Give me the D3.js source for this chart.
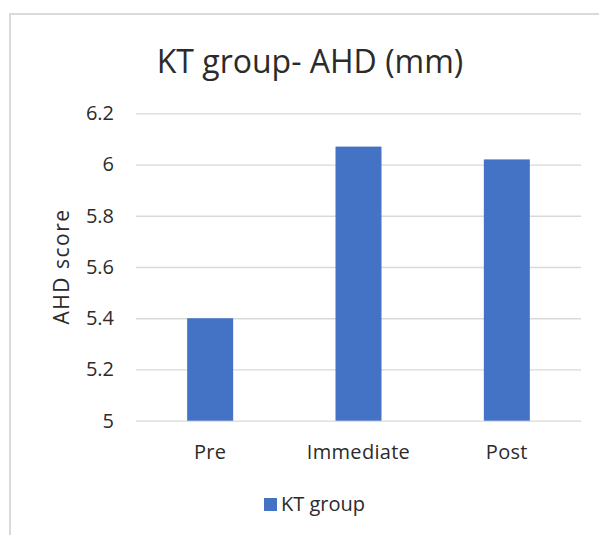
<!DOCTYPE html>
<html><head><meta charset="utf-8">
<script src="https://cdn.jsdelivr.net/npm/d3@7"></script>
<style>body{margin:0;background:#fff}svg{display:block}text{font-family:"Open Sans",sans-serif;fill:#2b2b2b}</style>
</head><body>
<svg id="c" width="599" height="535"></svg>
<script>
const categories = ["Pre", "Immediate", "Post"];
const values = [5.40, 6.07, 6.02];
const yTicks = [5, 5.2, 5.4, 5.6, 5.8, 6, 6.2];
const seriesName = "KT group";
const title = "KT group- AHD (mm)";
const yLabel = "AHD score";

const svg = d3.select("#c");
svg.append("rect").attr("x", 10).attr("y", 14).attr("width", 620).attr("height", 560)
  .attr("fill", "#fff").attr("stroke", "#d9d9d9").attr("stroke-width", 2);

const m = {left: 136, right: 581, top: 113.3, bottom: 420.7};
const x = d3.scaleBand().domain(categories).range([m.left, m.right]).paddingInner(0.69).paddingOuter(0.345);
const y = d3.scaleLinear().domain([5, 6.2]).range([m.bottom, m.top]);

const yAxis = svg.append("g").attr("transform", `translate(${m.left},0)`)
  .call(d3.axisLeft(y).tickValues(yTicks).tickSize(-(m.right - m.left)).tickFormat(d3.format("~g")));
yAxis.select(".domain").remove();
yAxis.selectAll(".tick line").attr("stroke", "#d9d9d9").attr("stroke-width", 1.3);
yAxis.selectAll(".tick text").attr("x", -22).attr("font-size", 20).attr("fill", "#2b2b2b")
  .style("font-family", "'Open Sans',sans-serif");

svg.append("g").selectAll("rect").data(categories).join("rect")
  .attr("x", d => x(d)).attr("width", x.bandwidth())
  .attr("y", (d, i) => y(values[i])).attr("height", (d, i) => y(5) - y(values[i]))
  .attr("fill", "#4472c4");

const xAxis = svg.append("g").attr("transform", `translate(0,${m.bottom})`)
  .call(d3.axisBottom(x).tickSize(0));
xAxis.select(".domain").remove();
xAxis.selectAll(".tick text").attr("y", 31).attr("dy", "0.35em").attr("font-size", 20).attr("fill", "#2b2b2b")
  .style("letter-spacing", "0.3px").style("font-family", "'Open Sans',sans-serif");

svg.append("text").attr("x", 310).attr("y", 73).attr("text-anchor", "middle")
  .attr("font-size", 32).attr("fill", "#1a1a1a").text(title);

svg.append("text").attr("transform", "translate(62,266.5) rotate(-90)").attr("text-anchor", "middle")
  .attr("dy", "0.35em").attr("font-size", 21).style("letter-spacing", "1.5px").text(yLabel);

svg.append("rect").attr("x", 264).attr("y", 498).attr("width", 13).attr("height", 13).attr("fill", "#4472c4");
svg.append("text").attr("x", 281).attr("y", 504).attr("dy", "0.35em").attr("font-size", 20).text(seriesName);
</script>
</body></html>
